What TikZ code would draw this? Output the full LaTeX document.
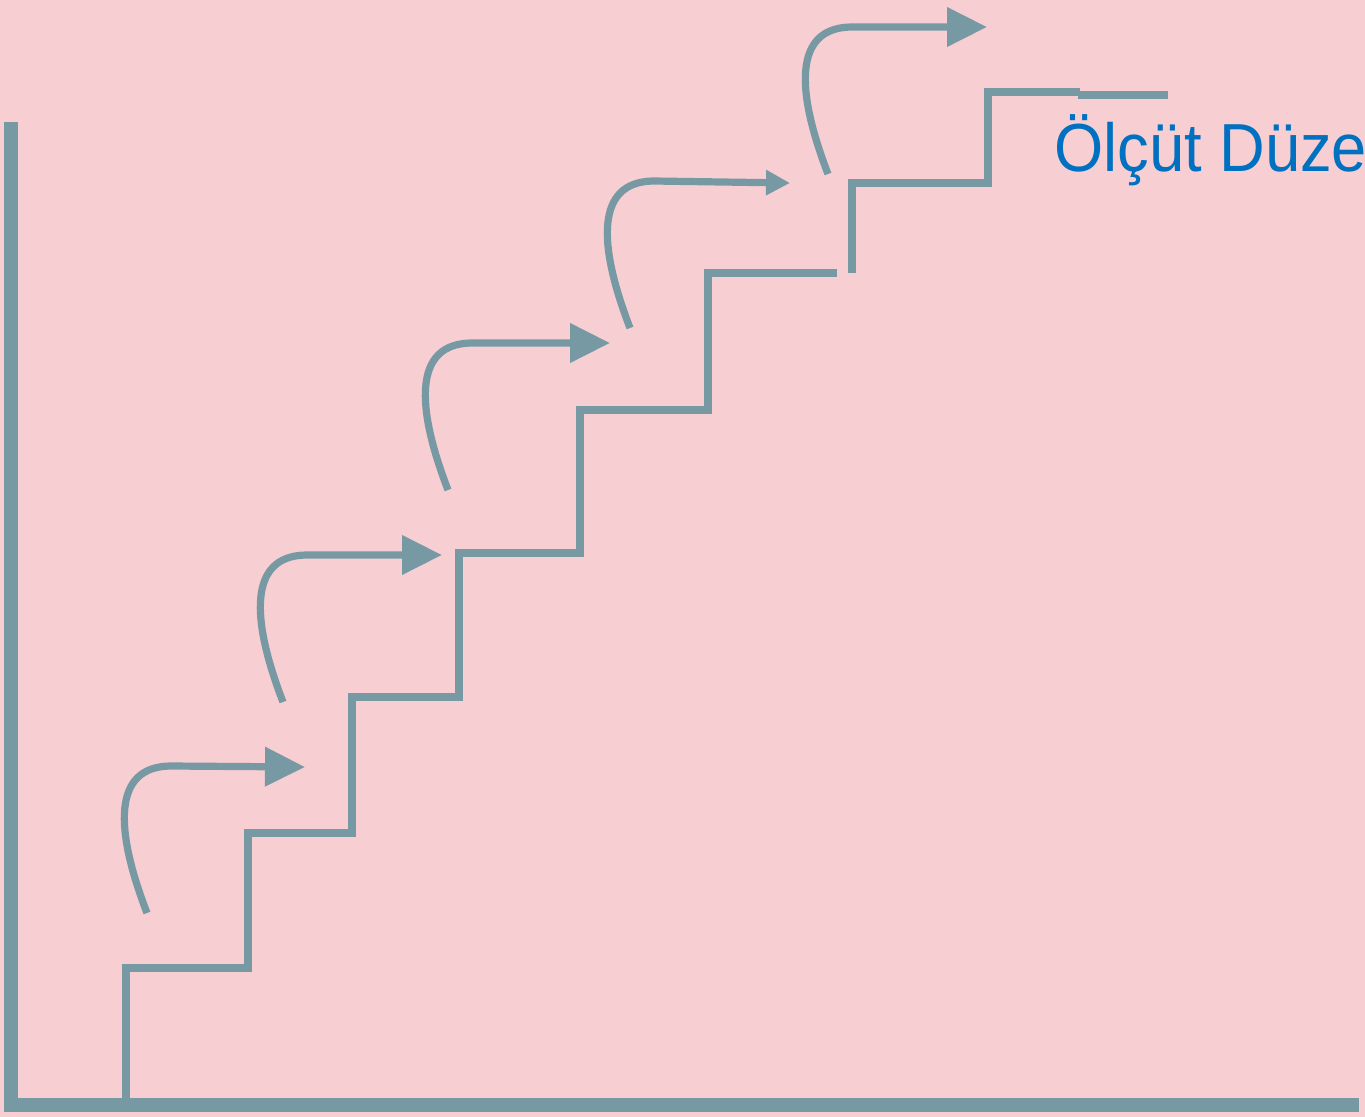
\documentclass[tikz,border=0pt]{standalone}
\usepackage{fontspec}
\setmainfont{Liberation Sans}
\usepackage{xcolor}
\usepackage{tikz}
\usetikzlibrary{arrows.meta}

\definecolor{stairgray}{RGB}{119,153,164}
\definecolor{bgpink}{RGB}{247,206,210}
\definecolor{labelblue}{RGB}{0,112,192}

\begin{document}
\begin{tikzpicture}[
			x=0.5pt, y=-0.5pt,
			axis/.style  = {draw=stairgray, line width=7pt},
			stair/.style = {draw=stairgray, line width=4pt, line join=miter},
			climb/.style = {draw=stairgray, line width=3.6pt, -{Triangle[length=20pt,width=19pt]}}
			]
			% page
			\useasboundingbox (0,0) rectangle (1365,1117);
			\clip (0,0) rectangle (1365,1117);
			\fill[bgpink] (0,0) rectangle (1365,1117);

			% axes
			\draw[axis] (11,122) -- (11,1105) -- (1359,1105);

			% staircase
			\draw[stair] (126,1100) -- (126,968) -- (248,968) -- (248,833) -- (352,833)
				-- (352,697) -- (459,697) -- (459,553) -- (580,553) -- (580,410)
				-- (708,410) -- (708,273) -- (837,273);
			\draw[stair] (852,273) -- (852,183) -- (988,183) -- (988,92) -- (1080,92);
			\draw[stair] (1078,95) -- (1168,95);

			% arrows
			\foreach \sx/\sy/\tx/\ty in {147/913/305/767, 283/702/442/555, 448/490/610/343, 828/174/987/27}
			\draw[climb] (\sx,\sy) .. controls ({\sx-32},{\sy-83}) and ({\sx-35},{\sy-146}) .. ({\sx+23},{\sy-147}) -- (\tx,\ty);
			\draw[climb, -{Triangle[length=12pt,width=12pt]}] (630,328) .. controls (598,245) and (595,182) .. (653,181) -- (790,183);

			% label
			\node[anchor=base west, inner sep=0pt, text=labelblue, font=\fontsize{34}{40}\selectfont, xscale=0.93] (level) at (1054,172) {Ölçüt Düze};
		\end{tikzpicture}
\end{document}
